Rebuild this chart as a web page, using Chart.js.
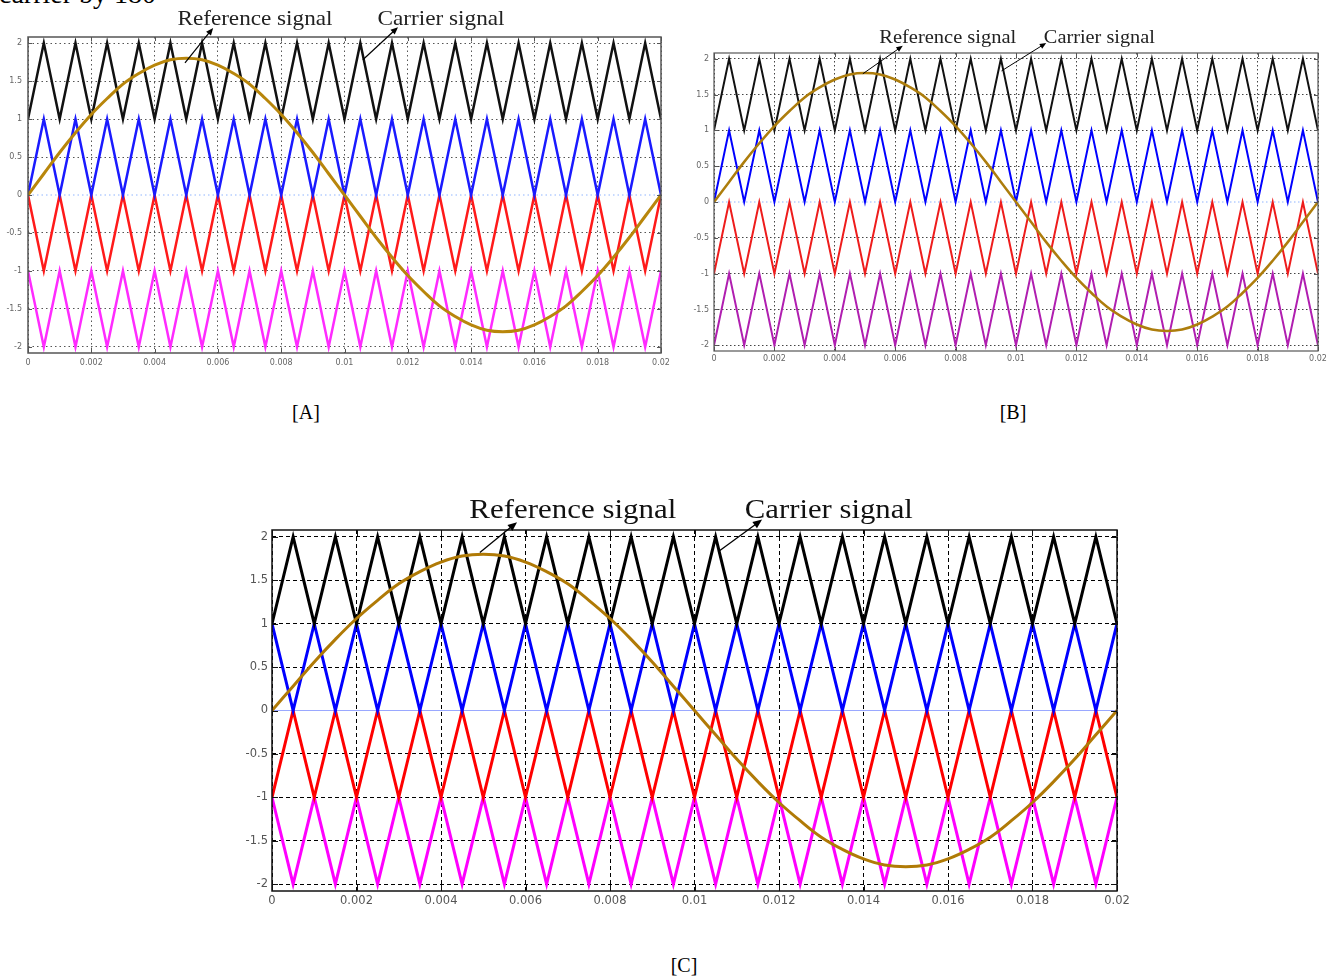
<!DOCTYPE html>
<html>
<head>
<meta charset="utf-8">
<script src="https://cdn.jsdelivr.net/npm/chart.js@4.4.1/dist/chart.umd.min.js"></script>
<style>
  html, body { margin: 0; padding: 0; background: #fff; }
  body { width: 1341px; height: 979px; position: relative; overflow: hidden; }
  canvas { position: absolute; }
  .cap { position: absolute; font-family: "Liberation Serif", "Times New Roman", serif; color: #000; white-space: nowrap; }
  .tag { width: 100px; text-align: center; font-size: 20px; line-height: 20px; }
</style>
</head>
<body>
<div class="cap" style="left:-1px; top:-20px; font-size:28px; line-height:28px;">carrier by 180</div>
<canvas id="chartA" width="690" height="385" style="left:0; top:0; filter:blur(0.55px);"></canvas>
<canvas id="chartB" width="651" height="385" style="left:690px; top:0; filter:blur(0.45px);"></canvas>
<canvas id="chartC" width="910" height="450" style="left:230px; top:470px;"></canvas>
<div class="cap tag" style="left:256px; top:402px;">[A]</div>
<div class="cap tag" style="left:963px; top:402px;">[B]</div>
<div class="cap tag" style="left:634px; top:955px;">[C]</div>

<script>
// Time instants (s) of the carrier vertices: 1 kHz triangles over one 50 Hz cycle
const tVertex = [0, 0.0005, 0.001, 0.0015, 0.002, 0.0025, 0.003, 0.0035, 0.004, 0.0045,
  0.005, 0.0055, 0.006, 0.0065, 0.007, 0.0075, 0.008, 0.0085, 0.009, 0.0095,
  0.01, 0.0105, 0.011, 0.0115, 0.012, 0.0125, 0.013, 0.0135, 0.014, 0.0145,
  0.015, 0.0155, 0.016, 0.0165, 0.017, 0.0175, 0.018, 0.0185, 0.019, 0.0195, 0.02];

// Carrier vertex levels (one value per instant above)
const band12Up   = [1,2,1,2,1,2,1,2,1,2,1,2,1,2,1,2,1,2,1,2,1,2,1,2,1,2,1,2,1,2,1,2,1,2,1,2,1,2,1,2,1];
const band01Up   = [0,1,0,1,0,1,0,1,0,1,0,1,0,1,0,1,0,1,0,1,0,1,0,1,0,1,0,1,0,1,0,1,0,1,0,1,0,1,0,1,0];
const band01Down = [1,0,1,0,1,0,1,0,1,0,1,0,1,0,1,0,1,0,1,0,1,0,1,0,1,0,1,0,1,0,1,0,1,0,1,0,1,0,1,0,1];
const bandM10Down = [0,-1,0,-1,0,-1,0,-1,0,-1,0,-1,0,-1,0,-1,0,-1,0,-1,0,-1,0,-1,0,-1,0,-1,0,-1,0,-1,0,-1,0,-1,0,-1,0,-1,0];
const bandM10Up  = [-1,0,-1,0,-1,0,-1,0,-1,0,-1,0,-1,0,-1,0,-1,0,-1,0,-1,0,-1,0,-1,0,-1,0,-1,0,-1,0,-1,0,-1,0,-1,0,-1,0,-1];
const bandM21Down = [-1,-2,-1,-2,-1,-2,-1,-2,-1,-2,-1,-2,-1,-2,-1,-2,-1,-2,-1,-2,-1,-2,-1,-2,-1,-2,-1,-2,-1,-2,-1,-2,-1,-2,-1,-2,-1,-2,-1,-2,-1];
const bandM21Up  = [-2,-1,-2,-1,-2,-1,-2,-1,-2,-1,-2,-1,-2,-1,-2,-1,-2,-1,-2,-1,-2,-1,-2,-1,-2,-1,-2,-1,-2,-1,-2,-1,-2,-1,-2,-1,-2,-1,-2,-1,-2];

// Reference (modulating) wave, peak 1.8, sampled at the same instants
const referenceWave = [0, 0.28, 0.56, 0.82, 1.06, 1.27, 1.46, 1.6, 1.71, 1.78,
  1.8, 1.78, 1.71, 1.6, 1.46, 1.27, 1.06, 0.82, 0.56, 0.28,
  0, -0.28, -0.56, -0.82, -1.06, -1.27, -1.46, -1.6, -1.71, -1.78,
  -1.8, -1.78, -1.71, -1.6, -1.46, -1.27, -1.06, -0.82, -0.56, -0.28, 0];

// Axis ticks
const xTickValues = [0, 0.002, 0.004, 0.006, 0.008, 0.01, 0.012, 0.014, 0.016, 0.018, 0.02];
const xTickLabels = ['0', '0.002', '0.004', '0.006', '0.008', '0.01', '0.012', '0.014', '0.016', '0.018', '0.02'];
const yTickValues = [-2, -1.5, -1, -0.5, 0, 0.5, 1, 1.5, 2];
const yTickLabels = ['-2', '-1.5', '-1', '-0.5', '0', '0.5', '1', '1.5', '2'];

// Annotation texts
const refText = 'Reference signal';
const carText = 'Carrier signal';

const pts = arr => tVertex.map((t, i) => ({ x: t, y: arr[i] }));

// Box, inward tick marks, zero line, arrows and callout texts
const decor = {
  id: 'decor',
  beforeDatasetsDraw(chart, args, o) {
    const { ctx, chartArea: a, scales: { y } } = chart;
    const y0 = y.getPixelForValue(0);
    ctx.save();
    ctx.strokeStyle = o.zeroColor;
    ctx.lineWidth = o.zeroWidth;
    ctx.setLineDash(o.zeroDash);
    ctx.beginPath(); ctx.moveTo(a.left, y0); ctx.lineTo(a.right, y0); ctx.stroke();
    ctx.restore();
  },
  afterDraw(chart, args, o) {
    const { ctx, chartArea: a, scales: { x, y } } = chart;
    ctx.save();
    ctx.strokeStyle = o.frameColor;
    ctx.lineWidth = o.frameWidth;
    ctx.strokeRect(a.left, a.top, a.right - a.left, a.bottom - a.top);
    ctx.beginPath();
    xTickValues.forEach(v => {
      const px = Math.round(x.getPixelForValue(v)) + 0.5;
      ctx.moveTo(px, a.bottom); ctx.lineTo(px, a.bottom - o.tickLen);
      ctx.moveTo(px, a.top); ctx.lineTo(px, a.top + o.tickLen);
    });
    yTickValues.forEach(v => {
      const py = Math.round(y.getPixelForValue(v)) + 0.5;
      ctx.moveTo(a.left, py); ctx.lineTo(a.left + o.tickLen, py);
      ctx.moveTo(a.right, py); ctx.lineTo(a.right - o.tickLen, py);
    });
    ctx.lineWidth = 1;
    ctx.stroke();

    // arrows
    ctx.strokeStyle = '#000';
    ctx.fillStyle = '#000';
    ctx.lineWidth = o.arrowWidth;
    o.arrows.forEach(ar => {
      const x0 = x.getPixelForValue(ar.from[0]), y0 = y.getPixelForValue(ar.from[1]);
      const x1 = x.getPixelForValue(ar.to[0]), y1 = y.getPixelForValue(ar.to[1]);
      const ang = Math.atan2(y1 - y0, x1 - x0);
      const h = o.headLen;
      ctx.beginPath(); ctx.moveTo(x0, y0);
      ctx.lineTo(x1 - Math.cos(ang) * h * 0.7, y1 - Math.sin(ang) * h * 0.7); ctx.stroke();
      ctx.beginPath();
      ctx.moveTo(x1, y1);
      ctx.lineTo(x1 - h * Math.cos(ang - 0.4), y1 - h * Math.sin(ang - 0.4));
      ctx.lineTo(x1 - h * Math.cos(ang + 0.4), y1 - h * Math.sin(ang + 0.4));
      ctx.closePath(); ctx.fill();
    });

    // callout texts
    ctx.fillStyle = o.textColor;
    ctx.font = o.textSize + 'px "Liberation Serif", "Times New Roman", serif';
    ctx.textAlign = 'center';
    ctx.textBaseline = 'alphabetic';
    o.texts.forEach(t => {
      const cx = x.getPixelForValue(t.at[0]);
      const cy = y.getPixelForValue(t.at[1]);
      const w = ctx.measureText(t.text).width;
      ctx.save();
      ctx.translate(cx, cy);
      ctx.scale(t.width / w, 1);
      ctx.fillText(t.text, 0, 0);
      ctx.restore();
    });
    ctx.restore();
  }
};

function build(id, s) {
  const lineSet = (data, color, width, tension) => ({
    data: pts(data), borderColor: color, borderWidth: width,
    pointRadius: 0, tension: tension, fill: false
  });
  new Chart(document.getElementById(id), {
    type: 'line',
    data: {
      datasets: [
        lineSet(referenceWave, s.sineColor, s.sineWidth, 0.4),
        ...s.carriers.map(c => lineSet(c.data, c.color, s.carrierWidth, 0))
      ]
    },
    options: {
      responsive: false,
      animation: false,
      devicePixelRatio: 1,
      layout: { padding: s.pad },
      plugins: {
        legend: { display: false },
        tooltip: { enabled: false },
        decor: s.decor
      },
      scales: {
        x: {
          type: 'linear', min: 0, max: 0.02,
          afterBuildTicks: sc => { sc.ticks = xTickValues.map(v => ({ value: v })); },
          afterFit: sc => { sc.height = s.xAxisH; },
          ticks: {
            callback: (v, i) => xTickLabels[i], maxRotation: 0, autoSkip: false,
            padding: s.xPad, color: s.tickColor,
            font: { family: '"DejaVu Sans", sans-serif', size: s.tickSize }
          },
          grid: { color: s.gridColor, lineWidth: 1, drawTicks: false },
          border: { display: false, dash: s.gridDash }
        },
        y: {
          type: 'linear', min: -2.08, max: 2.08,
          afterBuildTicks: sc => { sc.ticks = yTickValues.map(v => ({ value: v })); },
          afterFit: sc => { sc.width = s.yAxisW; },
          ticks: {
            callback: (v, i) => yTickLabels[i], autoSkip: false,
            padding: s.yPad, color: s.tickColor,
            font: { family: '"DejaVu Sans", sans-serif', size: s.tickSize }
          },
          grid: { color: ctx => (ctx.tick && ctx.tick.value === 0) ? 'rgba(0,0,0,0)' : s.gridColor, lineWidth: 1, drawTicks: false },
          border: { display: false, dash: s.gridDash }
        }
      }
    },
    plugins: [decor]
  });
}

// [A] phase opposition disposition
build('chartA', {
  pad: { top: 37, right: 29, bottom: 12, left: 0 },
  xAxisH: 20, yAxisW: 28, xPad: 5, yPad: 6,
  tickSize: 8, tickColor: '#666', gridColor: '#555', gridDash: [1.5, 3],
  sineColor: '#b8860b', sineWidth: 3, carrierWidth: 2.5,
  carriers: [
    { data: band12Up, color: '#111111' },
    { data: band01Up, color: '#1a1aff' },
    { data: bandM10Down, color: '#ff1a1a' },
    { data: bandM21Down, color: '#ff2bff' }
  ],
  decor: {
    frameColor: '#555', frameWidth: 1.5, tickLen: 4,
    zeroColor: '#8fb4ff', zeroWidth: 1, zeroDash: [1.5, 3],
    arrowWidth: 1.2, headLen: 8, textColor: '#222', textSize: 21,
    arrows: [
      { from: [0.00496, 1.74], to: [0.00585, 2.2] },
      { from: [0.01058, 1.78], to: [0.01169, 2.21] }
    ],
    texts: [
      { text: refText, at: [0.00717, 2.24], width: 155 },
      { text: carText, at: [0.01305, 2.24], width: 127 }
    ]
  }
});

// [B] phase disposition
build('chartB', {
  pad: { top: 53, right: 23, bottom: 14, left: 0 },
  xAxisH: 20, yAxisW: 24, xPad: 3, yPad: 5,
  tickSize: 8, tickColor: '#666', gridColor: '#444', gridDash: [1.5, 2.5],
  sineColor: '#ad7d0c', sineWidth: 2.5, carrierWidth: 2,
  carriers: [
    { data: band12Up, color: '#111111' },
    { data: band01Up, color: '#0000ff' },
    { data: bandM10Up, color: '#ee1c1c' },
    { data: bandM21Up, color: '#b01eb0' }
  ],
  decor: {
    frameColor: '#555', frameWidth: 1.2, tickLen: 4,
    zeroColor: '#8fb4ff', zeroWidth: 1, zeroDash: [1.5, 2.5],
    arrowWidth: 1, headLen: 7, textColor: '#222', textSize: 19,
    arrows: [
      { from: [0.00493, 1.79], to: [0.00625, 2.18] },
      { from: [0.00952, 1.83], to: [0.011, 2.22] }
    ],
    texts: [
      { text: refText, at: [0.00774, 2.22], width: 137 },
      { text: carText, at: [0.01276, 2.22], width: 111 }
    ]
  }
});

// [C] alternative phase opposition disposition
build('chartC', {
  pad: { top: 60, right: 23, bottom: 7, left: 0 },
  xAxisH: 22, yAxisW: 42, xPad: 3, yPad: 4,
  tickSize: 11.5, tickColor: '#555', gridColor: '#000', gridDash: [4, 3],
  sineColor: '#b07a06', sineWidth: 3, carrierWidth: 3,
  carriers: [
    { data: band12Up, color: '#000000' },
    { data: band01Down, color: '#0000ff' },
    { data: bandM10Up, color: '#ff0000' },
    { data: bandM21Down, color: '#ff00ff' }
  ],
  decor: {
    frameColor: '#111', frameWidth: 1.5, tickLen: 6,
    zeroColor: '#9aa8ff', zeroWidth: 1.2, zeroDash: [],
    arrowWidth: 1.3, headLen: 10, textColor: '#111', textSize: 27,
    arrows: [
      { from: [0.00492, 1.82], to: [0.0058, 2.17] },
      { from: [0.01056, 1.83], to: [0.0116, 2.2] }
    ],
    texts: [
      { text: refText, at: [0.00712, 2.22], width: 207 },
      { text: carText, at: [0.01318, 2.22], width: 168 }
    ]
  }
});
</script>
</body>
</html>
